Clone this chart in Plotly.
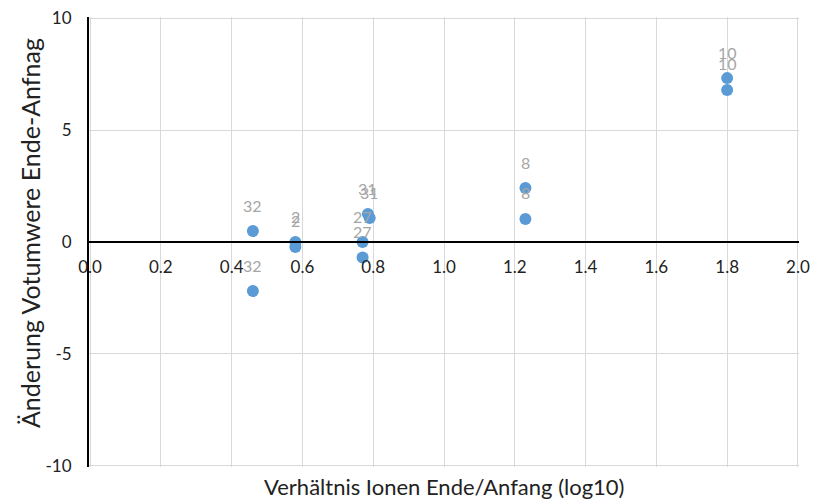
import plotly.graph_objects as go

point_labels = ["32", "32", "2", "2", "27", "27", "31", "31", "8", "8", "10", "10"]
x_vals = [0.46, 0.46, 0.58, 0.58, 0.77, 0.77, 0.785, 0.79, 1.23, 1.23, 1.80, 1.80]
y_vals = [0.49, -2.19, 0.0, -0.22, 0.0, -0.69, 1.25, 1.07, 2.41, 1.03, 7.32, 6.79]

x_tickvals = [0.0, 0.2, 0.4, 0.6, 0.8, 1.0, 1.2, 1.4, 1.6, 1.8, 2.0]
x_ticktext = ["0.0", "0.2", "0.4", "0.6", "0.8", "1.0", "1.2", "1.4", "1.6", "1.8", "2.0"]
y_tickvals = [-10, -5, 0, 5, 10]
y_ticktext = ["-10", "-5", "0", "5", "10"]

x_title = "Verhältnis Ionen Ende/Anfang (log10)"
y_title = "Änderung Votumwere Ende-Anfnag"

FONT = "Lato"

fig = go.Figure()
fig.add_trace(go.Scatter(
    x=x_vals, y=y_vals, mode="markers",
    marker=dict(color="#5B9BD5", size=12),
    hoverinfo="x+y", showlegend=False,
))

for xv, yv, lab in zip(x_vals, y_vals, point_labels):
    fig.add_annotation(x=xv, y=yv, text=lab, showarrow=False, yshift=26,
                       font=dict(family=FONT, size=16, color="#A6A6A6"))

fig.add_annotation(xref="paper", yref="paper", x=0.5, y=-0.044, text=x_title,
                   showarrow=False, xanchor="center", yanchor="middle",
                   font=dict(family=FONT, size=22, color="#222222"))
fig.add_annotation(xref="paper", yref="paper", x=-0.083, y=0.52, text=y_title,
                   showarrow=False, textangle=-90, xanchor="center", yanchor="middle",
                   font=dict(family=FONT, size=25, color="#222222"))

fig.update_layout(
    width=815, height=492,
    margin=dict(l=81, r=24, t=9, b=33, autoexpand=False),
    paper_bgcolor="white", plot_bgcolor="white",
    font=dict(family=FONT, size=17, color="#222222"),
    xaxis=dict(range=[-0.003, 2.003], tickvals=x_tickvals, ticktext=x_ticktext,
               anchor="free", position=0.5, automargin=False,
               showgrid=True, gridcolor="#D9D9D9", gridwidth=1,
               showline=True, linecolor="black", linewidth=2,
               zeroline=False, ticks="", ticklabelstandoff=10,
               ticklabeloverflow="allow", fixedrange=True),
    yaxis=dict(range=[-10.05, 10.05], tickvals=y_tickvals, ticktext=y_ticktext,
               automargin=False,
               showgrid=True, gridcolor="#D9D9D9", gridwidth=1,
               showline=True, linecolor="black", linewidth=2,
               zeroline=False, ticks="", ticklabelstandoff=12,
               ticklabeloverflow="allow", fixedrange=True),
)

fig.write_html("out.html")
